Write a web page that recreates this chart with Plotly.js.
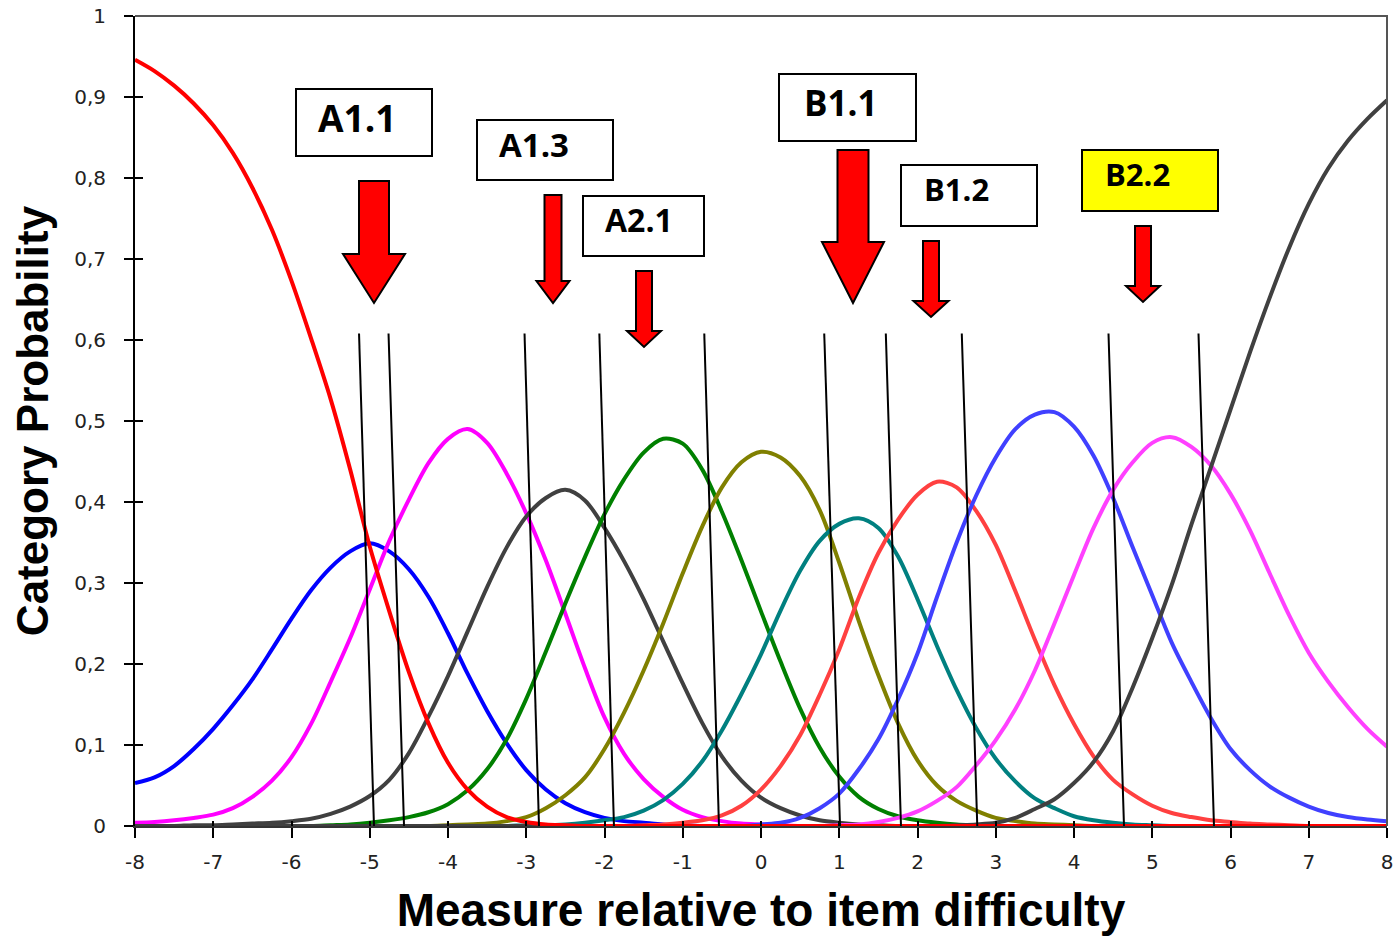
<!DOCTYPE html>
<html>
<head>
<meta charset="utf-8">
<script src="https://cdn.plot.ly/plotly-3.0.1.min.js"></script>
<style>html,body{margin:0;padding:0;background:#fff;}#chart{width:1393px;height:936px;}</style>
</head>
<body>
<div id="chart"></div>
<script>
// ---------------- DATA ----------------
const measure = [-8,-7.75,-7.5,-7.25,-7,-6.75,-6.5,-6.25,-6,-5.75,-5.5,-5.25,-5,-4.75,-4.5,-4.25,-4,-3.75,-3.5,-3.25,-3,-2.75,-2.5,-2.25,-2,-1.75,-1.5,-1.25,-1,-0.75,-0.5,-0.25,0,0.25,0.5,0.75,1,1.25,1.5,1.75,2,2.25,2.5,2.75,3,3.25,3.5,3.75,4,4.25,4.5,4.75,5,5.25,5.5,5.75,6,6.25,6.5,6.75,7,7.25,7.5,7.75,8];

const cat0 = [0.946,0.932,0.914,0.892, 0.865,0.831,0.788,0.736, 0.673,0.602,0.527,0.44, 0.345,0.265,0.19,0.127, 0.078,0.045,0.024,0.011, 0.005,0.002,0.001,0, 0,0,0,0, 0,0,0,0, 0,0,0,0, 0,0,0,0, 0,0,0,0, 0,0,0,0, 0,0,0,0, 0,0,0,0, 0,0,0,0, 0,0,0,0, 0];
const cat1 = [0.053,0.06,0.074,0.095, 0.12,0.149,0.181,0.218, 0.256,0.291,0.319,0.339, 0.349,0.339,0.317,0.283, 0.238,0.188,0.142,0.102, 0.069,0.045,0.028,0.017, 0.01,0.006,0.004,0.002, 0.001,0,0,0, 0,0,0,0, 0,0,0,0, 0,0,0,0, 0,0,0,0, 0,0,0,0, 0,0,0,0, 0,0,0,0, 0,0,0,0, 0];
const cat2 = [0.004,0.005,0.007,0.01, 0.014,0.022,0.036,0.056, 0.085,0.126,0.178,0.232, 0.292,0.352,0.403,0.448, 0.478,0.49,0.473,0.435, 0.386,0.328,0.262,0.195, 0.134,0.089,0.058,0.036, 0.02,0.011,0.006,0.003, 0.002,0.001,0,0, 0,0,0,0, 0,0,0,0, 0,0,0,0, 0,0,0,0, 0,0,0,0, 0,0,0,0, 0,0,0,0, 0];
const cat3 = [0,0,0,0.001, 0.001,0.002,0.003,0.004, 0.006,0.009,0.015,0.024, 0.037,0.057,0.09,0.135, 0.185,0.24,0.295,0.344, 0.382,0.405,0.415,0.402, 0.368,0.327,0.28,0.228, 0.176,0.127,0.086,0.056, 0.035,0.022,0.013,0.007, 0.004,0.002,0.001,0, 0,0,0,0, 0,0,0,0, 0,0,0,0, 0,0,0,0, 0,0,0,0, 0,0,0,0, 0];
const cat4 = [0,0,0,0, 0,0,0,0, 0,0,0.001,0.002, 0.004,0.007,0.011,0.017, 0.027,0.044,0.07,0.107, 0.157,0.215,0.275,0.332, 0.385,0.428,0.461,0.478, 0.472,0.44,0.388,0.328, 0.265,0.203,0.145,0.097, 0.061,0.036,0.021,0.012, 0.007,0.004,0.002,0.001, 0,0,0,0, 0,0,0,0, 0,0,0,0, 0,0,0,0, 0,0,0,0, 0];
const cat5 = [0,0,0,0, 0,0,0,0, 0,0,0,0, 0,0,0,0, 0.001,0.002,0.003,0.006, 0.011,0.022,0.038,0.06, 0.095,0.14,0.192,0.25, 0.312,0.37,0.418,0.449, 0.462,0.455,0.432,0.39, 0.325,0.253,0.186,0.127, 0.081,0.05,0.031,0.019, 0.01,0.006,0.003,0.002, 0.001,0,0,0, 0,0,0,0, 0,0,0,0, 0,0,0,0, 0];
const cat6 = [0,0,0,0, 0,0,0,0, 0,0,0,0, 0,0,0,0, 0,0,0,0, 0.001,0.001,0.002,0.004, 0.007,0.011,0.019,0.032, 0.052,0.08,0.118,0.163, 0.212,0.266,0.315,0.352, 0.373,0.38,0.368,0.333, 0.28,0.222,0.168,0.121, 0.083,0.055,0.034,0.022, 0.012,0.007,0.004,0.002, 0.001,0,0,0, 0,0,0,0, 0,0,0,0, 0];
const cat7 = [0,0,0,0, 0,0,0,0, 0,0,0,0, 0,0,0,0, 0,0,0,0, 0,0,0,0, 0,0,0.001,0.002, 0.004,0.007,0.013,0.025, 0.045,0.074,0.112,0.162, 0.218,0.282,0.337,0.378, 0.409,0.425,0.418,0.389, 0.347,0.29,0.23,0.174, 0.126,0.086,0.057,0.039, 0.025,0.016,0.011,0.007, 0.005,0.003,0.002,0.001, 0,0,0,0, 0];
const cat8 = [0,0,0,0, 0,0,0,0, 0,0,0,0, 0,0,0,0, 0,0,0,0, 0,0,0,0, 0,0,0,0, 0,0,0,0, 0.002,0.004,0.01,0.022, 0.04,0.07,0.107,0.156, 0.213,0.283,0.35,0.408, 0.455,0.49,0.508,0.511, 0.493,0.457,0.405,0.344, 0.285,0.226,0.178,0.133, 0.095,0.069,0.049,0.035, 0.024,0.016,0.011,0.008, 0.006];
const cat9 = [0,0,0,0, 0,0,0,0, 0,0,0,0, 0,0,0,0, 0,0,0,0, 0,0,0,0, 0,0,0,0, 0,0,0,0, 0,0,0,0, 0.001,0.002,0.005,0.01, 0.018,0.031,0.048,0.075, 0.106,0.144,0.192,0.25, 0.31,0.368,0.415,0.449, 0.473,0.48,0.468,0.445, 0.41,0.365,0.312,0.26, 0.214,0.178,0.147,0.12, 0.098];
const cat10 = [0,0,0,0, 0,0,0,0, 0,0,0,0, 0,0,0,0, 0,0,0,0, 0,0,0,0, 0,0,0,0, 0,0,0,0, 0,0,0,0, 0,0,0,0, 0,0,0.001,0.002, 0.004,0.01,0.021,0.033, 0.053,0.079,0.117,0.171, 0.232,0.298,0.372,0.443, 0.514,0.585,0.652,0.714, 0.768,0.812,0.846,0.873, 0.896];

const categorySeries = [cat0,cat1,cat2,cat3,cat4,cat5,cat6,cat7,cat8,cat9,cat10];
const categoryColors = ['#ff0000','#0000ff','#ff00ff','#404040','#008000','#808000','#008080','#ff4040','#4040ff','#ff40ff','#404040'];

// slanted black marker lines: x at top and at bottom
const markTopX    = [-5.137,-4.760,-3.022,-2.066,-0.725,0.808,1.595,2.566,4.441,5.591];
const markBottomX = [-4.946,-4.562,-2.837,-1.879,-0.537,1.010,1.789,2.764,4.639,5.789];
const markTopY = 0.608, markBottomY = 0;

// tick labels
const yTickVals = [0,0.1,0.2,0.3,0.4,0.5,0.6,0.7,0.8,0.9,1];
const yTickText = ['0','0,1','0,2','0,3','0,4','0,5','0,6','0,7','0,8','0,9','1'];
const xTickVals = [-8,-7,-6,-5,-4,-3,-2,-1,0,1,2,3,4,5,6,7,8];
const xTickText = ['-8','-7','-6','-5','-4','-3','-2','-1','0','1','2','3','4','5','6','7','8'];

// labels
const labelNames = ['A1.1','A1.3','A2.1','B1.1','B1.2','B2.2'];
// ---------------- LAYOUT GEOMETRY (pixels) ----------------
const boxPx   = [[296,89,432,156],[477,120,613,180],[583,196,704,256],[779,74,916,141],[901,165,1037,226],[1082,150,1218,211]];
const boxFill = ['#ffffff','#ffffff','#ffffff','#ffffff','#ffffff','#ffff00'];
const textPx  = [[316,117],[497,144],[603,219],[802,102],[922,189],[1103,174]];
const textSize= [37,33,32,35,31,31];
// arrow: center x, top y, head base y, tip y, shaft width, head width
const arrowPx = [[374,181,254,303,30,62],[553,195,281,303,17,33],[644,271,331,347,16,34],[853,150,242,303,31,62],[931,241,301,317,16,35],[1143,226,286,302,16,34]];

const L = 135, R = 1387, T = 16, B = 826, W = 1393, H = 936;
function dx(px){ return -8 + (px - L) / (R - L) * 16; }
function dy(py){ return (B - py) / (B - T); }

// ---------------- TRACES ----------------
const traces = [];
const order = [1,2,3,4,5,6,7,8,9,10,0];
order.forEach(i => {
  traces.push({x: measure, y: categorySeries[i], type:'scatter', mode:'lines',
    line:{color: categoryColors[i], width:4, shape:'spline', smoothing:0.9}, hoverinfo:'skip', showlegend:false});
});
markTopX.forEach((xt, i) => {
  traces.push({x:[xt, markBottomX[i]], y:[markTopY, markBottomY], type:'scatter', mode:'lines',
    line:{color:'#000', width:2}, hoverinfo:'skip', showlegend:false, cliponaxis:false});
});
traces.push({x:[null], y:[null], xaxis:'x2', yaxis:'y2', type:'scatter', mode:'lines', showlegend:false, hoverinfo:'skip'});

// ---------------- SHAPES / ANNOTATIONS ----------------
const shapes = [];
const annotations = [];
boxPx.forEach((b, i) => {
  shapes.push({type:'rect', xref:'x', yref:'y', x0:dx(b[0]), x1:dx(b[2]), y0:dy(b[3]), y1:dy(b[1]),
    line:{color:'#000', width:2}, fillcolor: boxFill[i], layer:'above'});
  annotations.push({xref:'x', yref:'y', x:dx(textPx[i][0]), y:dy(textPx[i][1]), xanchor:'left', yanchor:'middle',
    text: labelNames[i], showarrow:false, font:{family:'Open Sans', size:textSize[i], color:'#000', weight:700}});
});
arrowPx.forEach(a => {
  const [cx, top, hb, tip, sw, hw] = a;
  const pts = [[cx-sw/2,top],[cx+sw/2,top],[cx+sw/2,hb],[cx+hw/2,hb],[cx,tip],[cx-hw/2,hb],[cx-sw/2,hb]];
  const path = 'M ' + pts.map(p => dx(p[0]) + ',' + dy(p[1])).join(' L ') + ' Z';
  shapes.push({type:'path', xref:'x', yref:'y', path: path, fillcolor:'#ff0000', line:{color:'#000', width:2}, layer:'above'});
});
// frame top/right
shapes.push({type:'path', xref:'paper', yref:'paper', path:'M 0,1 L 1,1 L 1,0', line:{color:'#555', width:2}, layer:'above'});

const tickFont = {family:'DejaVu Sans', size:20, color:'#222'};
const layout = {
  width: W, height: H,
  margin: {l: L, r: W - R, t: T, b: H - B, pad: 0},
  paper_bgcolor:'#fff', plot_bgcolor:'#fff',
  showlegend:false,
  xaxis: {range:[-8,8], tickvals:xTickVals, ticktext:xTickText, ticks:'outside', ticklen:10, tickwidth:2, tickcolor:'#000',
    showgrid:false, zeroline:false, showline:true, linecolor:'#333', linewidth:2, tickfont:tickFont, ticklabelstandoff:7,
    ticklabeloverflow:'allow',
    title:{text:'Measure relative to item difficulty', font:{family:'Liberation Sans, Arial', size:46, color:'#000', weight:700}, standoff:22}},
  yaxis: {range:[0,1], tickvals:yTickVals, ticktext:yTickText, ticks:'outside', ticklen:9, tickwidth:2, tickcolor:'#000',
    showgrid:false, zeroline:false, showline:true, linecolor:'#000', linewidth:2, tickfont:tickFont, ticklabelstandoff:14,
    title:{text:'Category Probability', font:{family:'Liberation Sans, Arial', size:44, color:'#000', weight:700}, standoff:12}},
  xaxis2: {range:[-8,8], overlaying:'x', anchor:'y', side:'bottom', tickvals:xTickVals, ticks:'inside', ticklen:5, tickwidth:2, tickcolor:'#000',
    showticklabels:false, showgrid:false, zeroline:false, showline:false},
  yaxis2: {range:[0,1], overlaying:'y', anchor:'x', side:'left', tickvals:yTickVals, ticks:'inside', ticklen:8, tickwidth:2, tickcolor:'#000',
    showticklabels:false, showgrid:false, zeroline:false, showline:false},
  shapes: shapes,
  annotations: annotations
};
Plotly.newPlot('chart', traces, layout, {displayModeBar:false, staticPlot:true});
</script>
</body>
</html>
